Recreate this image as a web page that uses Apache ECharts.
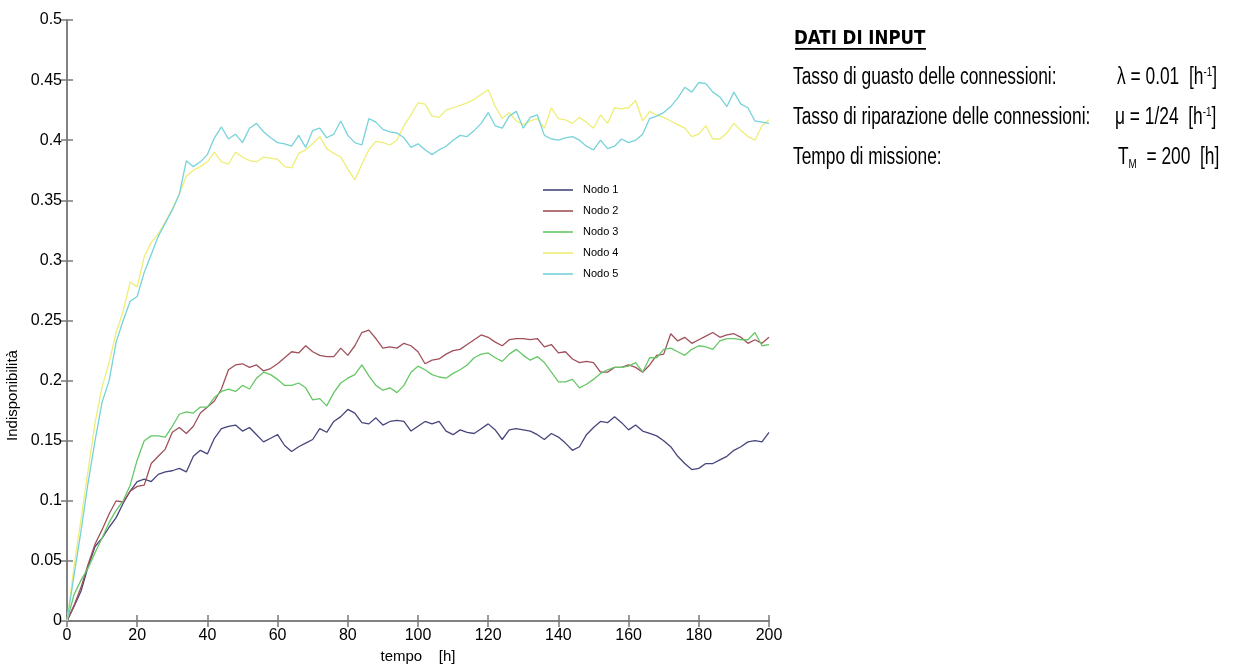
<!DOCTYPE html>
<html>
<head>
<meta charset="utf-8">
<script src="https://cdn.jsdelivr.net/npm/echarts@6/dist/echarts.min.js"></script>
<style>
html,body{margin:0;padding:0;background:#fff;}
#c{width:1236px;height:668px;}
</style>
</head>
<body>
<div id="c"></div>
<script>
// time grid (hours)
var tempo = [];
for (var i = 0; i <= 200; i += 2) tempo.push(i);

var seriesNames = ['Nodo 1', 'Nodo 2', 'Nodo 3', 'Nodo 4', 'Nodo 5'];

var nodo1 = [0,0.012,0.025,0.045,0.062,0.069,0.078,0.086,0.098,0.108,0.116,0.118,0.116,0.122,0.124,0.125,0.127,0.124,0.137,0.142,0.139,
0.152,0.160,0.162,0.163,0.158,0.161,0.155,0.149,0.152,0.155,0.146,0.141,0.145,0.148,0.151,0.160,0.157,0.166,0.170,0.176,
0.173,0.165,0.164,0.169,0.163,0.166,0.167,0.166,0.158,0.162,0.166,0.164,0.166,0.158,0.155,0.159,0.157,0.156,0.160,0.164,
0.159,0.151,0.159,0.160,0.159,0.158,0.155,0.151,0.156,0.153,0.148,0.142,0.145,0.155,0.161,0.166,0.165,0.170,0.165,0.159,
0.163,0.158,0.156,0.154,0.150,0.145,0.137,0.131,0.126,0.127,0.131,0.131,0.134,0.137,0.142,0.145,0.149,0.150,0.149,0.157];

var nodo2 = [0,0.013,0.028,0.047,0.064,0.076,0.089,0.100,0.099,0.108,0.112,0.113,0.131,0.137,0.143,0.157,0.161,0.156,0.162,0.173,0.178,
0.183,0.193,0.209,0.213,0.214,0.211,0.213,0.208,0.210,0.214,0.219,0.224,0.223,0.229,0.224,0.221,0.220,0.220,0.227,0.221,
0.229,0.240,0.242,0.235,0.227,0.228,0.227,0.231,0.229,0.224,0.214,0.217,0.218,0.222,0.225,0.226,0.230,0.234,0.238,0.236,
0.232,0.229,0.234,0.235,0.235,0.234,0.235,0.228,0.230,0.223,0.224,0.218,0.215,0.216,0.215,0.207,0.207,0.211,0.211,0.213,
0.211,0.207,0.213,0.221,0.222,0.239,0.233,0.236,0.231,0.234,0.237,0.240,0.236,0.238,0.239,0.236,0.231,0.234,0.231,0.236];

var nodo3 = [0,0.022,0.034,0.044,0.057,0.069,0.082,0.092,0.100,0.113,0.134,0.150,0.154,0.154,0.153,0.162,0.172,0.174,0.173,0.178,0.178,
0.186,0.191,0.193,0.191,0.196,0.193,0.202,0.207,0.205,0.201,0.196,0.196,0.198,0.194,0.184,0.185,0.179,0.190,0.198,0.202,
0.205,0.213,0.204,0.196,0.192,0.194,0.190,0.196,0.207,0.212,0.209,0.205,0.203,0.202,0.206,0.209,0.213,0.219,0.222,0.223,
0.219,0.216,0.222,0.226,0.221,0.217,0.220,0.215,0.207,0.199,0.199,0.201,0.194,0.197,0.201,0.206,0.209,0.211,0.211,0.212,
0.215,0.207,0.219,0.219,0.226,0.227,0.224,0.221,0.226,0.229,0.228,0.226,0.233,0.235,0.235,0.234,0.234,0.240,0.229,0.230];

var nodo4 = [0,0.045,0.085,0.125,0.165,0.195,0.215,0.240,0.258,0.282,0.278,0.303,0.315,0.322,0.332,0.343,0.355,0.370,0.375,0.378,0.382,
0.390,0.382,0.380,0.390,0.386,0.383,0.382,0.386,0.385,0.384,0.378,0.377,0.389,0.392,0.397,0.403,0.393,0.389,0.386,0.376,
0.367,0.380,0.392,0.399,0.398,0.396,0.400,0.412,0.421,0.431,0.430,0.420,0.419,0.425,0.427,0.429,0.431,0.434,0.438,0.442,
0.428,0.418,0.423,0.416,0.413,0.416,0.418,0.410,0.427,0.418,0.417,0.414,0.419,0.415,0.410,0.421,0.414,0.427,0.426,0.427,
0.433,0.416,0.424,0.421,0.419,0.416,0.413,0.410,0.403,0.405,0.412,0.401,0.401,0.406,0.414,0.408,0.403,0.400,0.412,0.417];

var nodo5 = [0,0.038,0.075,0.115,0.150,0.182,0.200,0.232,0.250,0.266,0.270,0.290,0.305,0.320,0.331,0.342,0.355,0.383,0.378,0.382,0.388,
0.402,0.411,0.401,0.405,0.398,0.410,0.414,0.407,0.402,0.398,0.397,0.395,0.404,0.394,0.408,0.410,0.402,0.405,0.416,0.404,
0.398,0.396,0.418,0.415,0.409,0.407,0.406,0.402,0.394,0.397,0.392,0.388,0.392,0.395,0.400,0.404,0.403,0.408,0.414,0.423,
0.412,0.410,0.420,0.424,0.410,0.419,0.421,0.404,0.401,0.400,0.402,0.403,0.400,0.395,0.392,0.400,0.393,0.395,0.401,0.398,
0.400,0.405,0.418,0.420,0.423,0.428,0.435,0.444,0.440,0.448,0.447,0.440,0.436,0.428,0.440,0.430,0.427,0.416,0.415,0.414];

var allValues = [nodo1, nodo2, nodo3, nodo4, nodo5];
var colors = ['#46467c', '#a0505a', '#66c766', '#eeee77', '#77d2da'];

var xTicks = [0, 20, 40, 60, 80, 100, 120, 140, 160, 180, 200];
var yTicks = [0, 0.05, 0.1, 0.15, 0.2, 0.25, 0.3, 0.35, 0.4, 0.45, 0.5];

var inputTitle = 'DATI DI INPUT';
var inputLabels = ['Tasso di guasto delle connessioni:', 'Tasso di riparazione delle connessioni:', 'Tempo di missione:'];

var chart = echarts.init(document.getElementById('c'), null, {renderer: 'canvas'});

var FONT = '"Liberation Sans", Arial, sans-serif';
var axisLineStyle = {color: '#7a7a7a', width: 1.5};

var series = seriesNames.map(function (n, k) {
  return {
    name: n, type: 'line', xAxisIndex: 0, yAxisIndex: 0,
    data: tempo.map(function (t, i) { return [t, allValues[k][i]]; }),
    showSymbol: false, symbol: 'none',
    lineStyle: {width: 1.3, color: colors[k]},
    itemStyle: {color: colors[k]},
    z: 2 + k
  };
});

var textX = 793, valX = 1117, sX = 0.755;
var rich = {
  a: {font: '23px ' + FONT, fill: '#000'},
  sup: {font: '13px ' + FONT, fill: '#000', padding: [0, 0, 12, 0]},
  sub: {font: '13px ' + FONT, fill: '#000', padding: [12, 0, 0, 0]}
};
var graphics = [
  {type: 'text', x: 794, y: 39, scaleX: 0.83,
   style: {text: inputTitle, font: 'bold 20px "DejaVu Sans", Verdana, sans-serif', fill: '#000', textVerticalAlign: 'middle'}},
  {type: 'rect', shape: {x: 795, y: 48, width: 131, height: 1.8}, style: {fill: '#000'}}
];
var rowY = [78, 118, 158];
for (var r = 0; r < 3; r++) {
  graphics.push({type: 'text', x: textX, y: rowY[r], scaleX: sX,
    style: {text: inputLabels[r], font: '23px ' + FONT, fill: '#000', textVerticalAlign: 'middle'}});
}
graphics.push({type: 'text', x: valX, y: rowY[0], scaleX: sX,
  style: {text: '{a|λ = 0.01  [h}{sup|-1}{a|]}', rich: rich, textVerticalAlign: 'middle'}});
graphics.push({type: 'text', x: valX - 2, y: rowY[1], scaleX: sX,
  style: {text: '{a|μ = 1/24  [h}{sup|-1}{a|]}', rich: rich, textVerticalAlign: 'middle'}});
graphics.push({type: 'text', x: valX + 1, y: rowY[2], scaleX: sX,
  style: {text: '{a|T}{sub|M}{a|  = 200  [h]}', rich: rich, textVerticalAlign: 'middle'}});

var option = {
  backgroundColor: '#ffffff',
  animation: false,
  color: colors,
  grid: {left: 67, right: 467, top: 20, bottom: 47, containLabel: false, outerBoundsMode: 'none'},
  legend: {
    data: seriesNames,
    orient: 'vertical',
    left: 538, top: 179,
    icon: 'rect',
    itemWidth: 30, itemHeight: 1.6,
    itemGap: 9,
    textStyle: {fontFamily: FONT, fontSize: 11, color: '#000', lineHeight: 12, padding: [0, 0, 0, 5]}
  },
  xAxis: [{
    type: 'value', min: 0, max: 200, interval: 20, position: 'bottom',
    name: 'tempo    [h]', nameLocation: 'middle', nameGap: 28,
    nameTextStyle: {fontFamily: FONT, fontSize: 15, color: '#000'},
    axisLine: {show: true, lineStyle: axisLineStyle},
    axisTick: {show: true, inside: true, length: 6, lineStyle: axisLineStyle},
    axisLabel: {fontFamily: FONT, fontSize: 16, color: '#000', margin: 7,
      formatter: function (v) { return xTicks.indexOf(v) >= 0 ? String(v) : ''; }},
    splitLine: {show: false}
  }, {
    type: 'value', min: 0, max: 200, interval: 20, position: 'top',
    axisLine: {show: true, lineStyle: axisLineStyle},
    axisTick: {show: true, inside: true, length: 6, lineStyle: axisLineStyle},
    axisLabel: {show: false}, splitLine: {show: false}
  }],
  yAxis: [{
    type: 'value', min: 0, max: 0.5, interval: 0.05, position: 'left',
    name: 'Indisponibilità', nameLocation: 'middle', nameGap: 32,
    nameTextStyle: {fontFamily: FONT, fontSize: 15, color: '#000', padding: [0, 150, 0, 0]},
    axisLine: {show: true, lineStyle: axisLineStyle},
    axisTick: {show: true, inside: true, length: 6, lineStyle: axisLineStyle},
    axisLabel: {fontFamily: FONT, fontSize: 16, color: '#000', margin: 5,
      formatter: function (v) {
        var r = Math.round(v * 100) / 100;
        for (var j = 0; j < yTicks.length; j++) if (Math.abs(yTicks[j] - r) < 1e-9) return String(yTicks[j]);
        return '';
      }},
    splitLine: {show: false}
  }, {
    type: 'value', min: 0, max: 0.5, interval: 0.05, position: 'right',
    axisLine: {show: true, lineStyle: axisLineStyle},
    axisTick: {show: true, inside: true, length: 6, lineStyle: axisLineStyle},
    axisLabel: {show: false}, splitLine: {show: false}
  }],
  series: series,
  graphic: graphics
};
chart.setOption(option);
</script>
</body>
</html>
